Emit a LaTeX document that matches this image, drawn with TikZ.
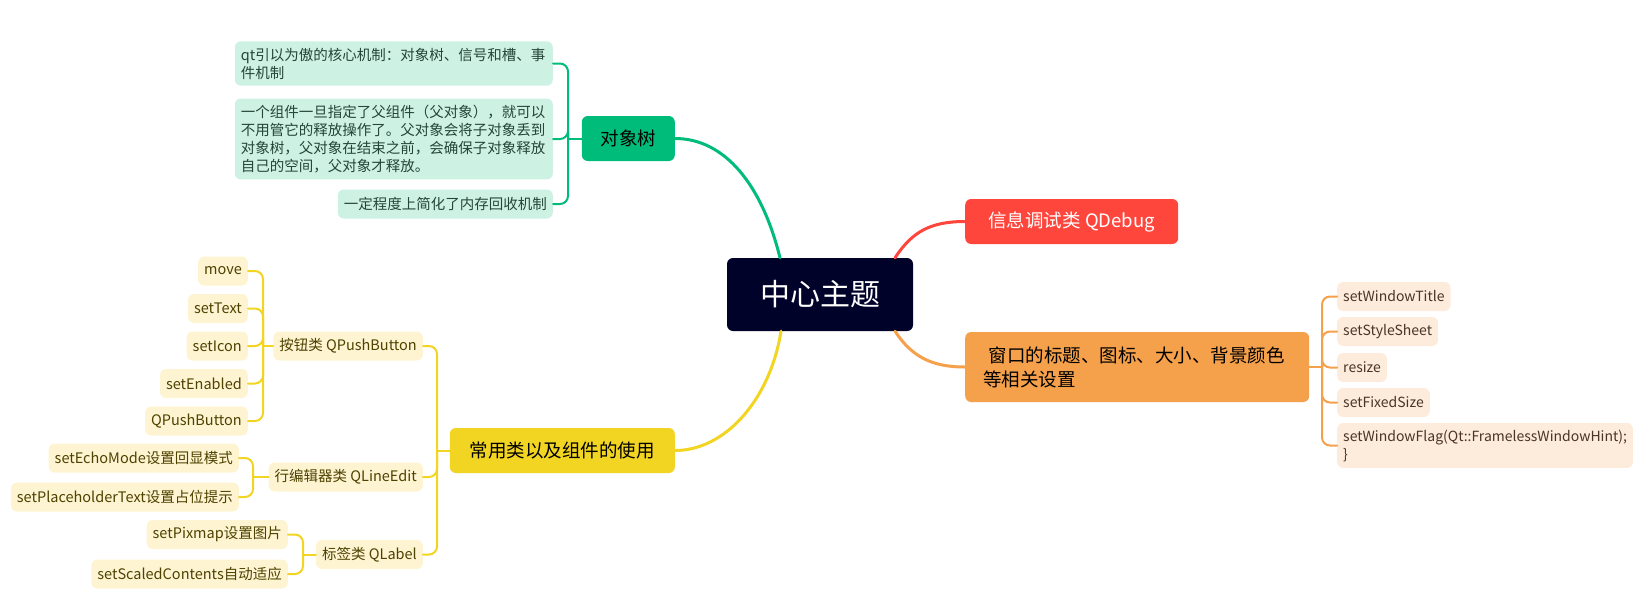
\documentclass[tikz,border=0pt]{standalone}
\usepackage{fontspec}
\setmainfont{Noto Sans CJK SC}
\usetikzlibrary{positioning}
\definecolor{rootbg}{HTML}{000229}
\definecolor{gmain}{HTML}{00BC7B}
\definecolor{gleafbg}{HTML}{CDF1E3}
\definecolor{gleaftx}{HTML}{24463A}
\definecolor{ymain}{HTML}{F2D422}
\definecolor{yleafbg}{HTML}{FEF4D1}
\definecolor{yleaftx}{HTML}{4D4200}
\definecolor{rmain}{HTML}{FF463D}
\definecolor{omain}{HTML}{F5A04B}
\definecolor{oleafbg}{HTML}{FDEBDC}
\definecolor{oleaftx}{HTML}{4A3525}
\tikzstyle{root} = [fill=rootbg, text=white, rounded corners=6pt, minimum width=186pt, minimum height=73pt, font=\fontsize{30}{36}\selectfont]
\tikzstyle{topic} = [rounded corners=6pt, minimum height=45pt, inner xsep=18pt, font=\fontsize{18.5}{24}\selectfont]
\tikzstyle{leaf} = [rounded corners=6pt, minimum height=29pt, inner xsep=6pt, inner ysep=6.5pt, font=\fontsize{14.5}{18}\selectfont]
\tikzstyle{gleaf} = [leaf, fill=gleafbg, text=gleaftx, align=left]
\tikzstyle{yleaf} = [leaf, fill=yleafbg, text=yleaftx, anchor=east]
\tikzstyle{oleaf} = [leaf, fill=oleafbg, text=oleaftx, anchor=west, align=left, font=\fontsize{14}{18}\selectfont]
\tikzstyle{gline} = [draw=gmain, line width=2pt, rounded corners=8pt]
\tikzstyle{yline} = [draw=ymain, line width=2pt, rounded corners=8pt]
\tikzstyle{oline} = [draw=omain, line width=2pt, rounded corners=8pt]

\begin{document}
\begin{tikzpicture}[x=1pt, y=-1pt, >=latex, line cap=round]
\useasboundingbox (0,0) rectangle (1651,608);
%Zentrum
\node[root] (root) at (820,294.5) {中心主题};
%Hauptzweige
\node[topic, fill=gmain, minimum width=93pt, anchor=east] (obj) at (675,138.5) {对象树};
\node[topic, fill=ymain, minimum width=225pt, anchor=east] (widget) at (675,450.5) {常用类以及组件的使用};
\node[topic, fill=rmain, text=white, minimum width=213pt, anchor=west] (debug) at (965,221.5) {信息调试类 QDebug};
\node[topic, fill=omain, minimum width=344pt, minimum height=70pt, text width=308pt, align=left, anchor=west] (win) at (965,367) {\hspace{0.3em}窗口的标题、图标、大小、背景颜色\\等相关设置};
\draw[gmain, line width=3pt] ([xshift=-40pt]root.north) .. controls (762,185) and (725,138.5) .. (obj.east);
\draw[ymain, line width=3pt] ([xshift=-39pt]root.south) .. controls (770,400) and (725,450.5) .. (widget.east);
\draw[rmain, line width=3pt] ([xshift=75pt]root.north) .. controls (912,232) and (930,221.5) .. (debug.west);
\draw[omain, line width=3pt] ([xshift=75pt]root.south) .. controls (912,357) and (932,367) .. (win.west);
%Objektbaum
\node[gleaf, text width=306pt, anchor=east] (g1) at (553,63.5) {qt引以为傲的核心机制：对象树、信号和槽、事\\件机制};
\node[gleaf, text width=306pt, anchor=east] (g2) at (553,139) {一个组件一旦指定了父组件（父对象），就可以\\不用管它的释放操作了。父对象会将子对象丢到\\对象树，父对象在结束之前，会确保子对象释放\\自己的空间，父对象才释放。};
\node[gleaf, anchor=east] (g3) at (553,204) {一定程度上简化了内存回收机制};
\coordinate (gfork) at (568,138.5);
\draw[gline] (obj.west) -- (gfork);
\foreach \n in {g1,g2,g3} \draw[gline] (gfork) |- (\n.east);
%Klassen und Komponenten
\node[yleaf] (btn) at (423,346) {按钮类 QPushButton};
\node[yleaf] (edit) at (423,477) {行编辑器类 QLineEdit};
\node[yleaf] (lab) at (423,554.5) {标签类 QLabel};
\coordinate (yfork) at (437,450.5);
\draw[yline] (widget.west) -- (yfork);
\foreach \n in {btn,edit,lab} \draw[yline] (yfork) |- (\n.east);
\node[yleaf] (move) at (248,271) {move};
\node[yleaf] (settext) at (248,308.5) {setText};
\node[yleaf] (seticon) at (248,346) {setIcon};
\node[yleaf] (setenabled) at (248,383.5) {setEnabled};
\node[yleaf] (pushbtn) at (248,421) {QPushButton};
\coordinate (bfork) at (263,346);
\draw[yline] (btn.west) -- (bfork);
\foreach \n in {move,settext,seticon,setenabled,pushbtn} \draw[yline] (bfork) |- (\n.east);
\node[yleaf] (echo) at (239,458) {setEchoMode设置回显模式};
\node[yleaf] (placeholder) at (239,497) {setPlaceholderText设置占位提示};
\coordinate (efork) at (253,477);
\draw[yline] (edit.west) -- (efork);
\foreach \n in {echo,placeholder} \draw[yline] (efork) |- (\n.east);
\node[yleaf] (pixmap) at (288,534.5) {setPixmap设置图片};
\node[yleaf] (scaled) at (288,574) {setScaledContents自动适应};
\coordinate (lfork) at (303,554.5);
\draw[yline] (lab.west) -- (lfork);
\foreach \n in {pixmap,scaled} \draw[yline] (lfork) |- (\n.east);
%Fenster
\node[oleaf] (title) at (1337,296.5) {setWindowTitle};
\node[oleaf] (style) at (1337,331.5) {setStyleSheet};
\node[oleaf] (resize) at (1337,367.5) {resize};
\node[oleaf] (fixed) at (1337,402.5) {setFixedSize};
\node[oleaf] (flag) at (1337,445.5) {setWindowFlag(Qt::FramelessWindowHint);\\\}};
\coordinate (ofork) at (1322,367);
\draw[oline] (win.east) -- (ofork);
\foreach \n in {title,style,resize,fixed,flag} \draw[oline] (ofork) |- (\n.west);
\end{tikzpicture}
\end{document}
